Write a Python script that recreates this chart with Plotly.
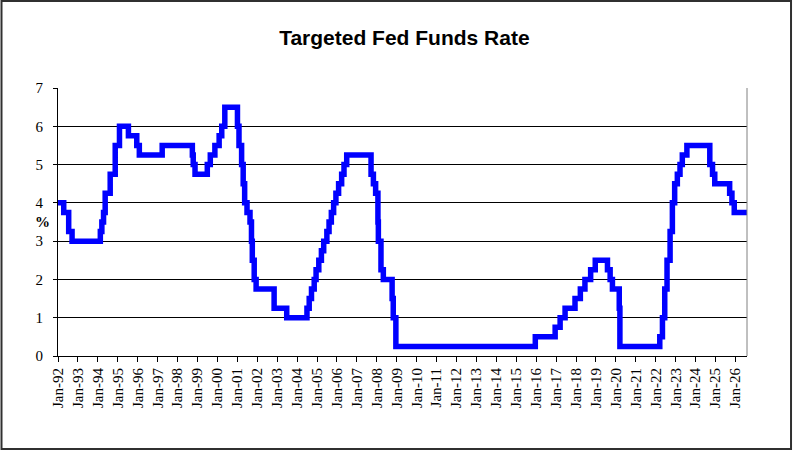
import plotly.graph_objects as go

# target rate (upper bound after 2008), dates when the level changed
change_dates = [
    "1992-01-01", "1992-04-15", "1992-07-15", "1992-09-15",
    "1994-02-15", "1994-03-15", "1994-04-15", "1994-05-15", "1994-08-15", "1994-11-15",
    "1995-02-01", "1995-07-15", "1995-12-15", "1996-01-31", "1997-03-25",
    "1998-09-29", "1998-10-15", "1998-11-17", "1999-06-30", "1999-08-24", "1999-11-16",
    "2000-02-02", "2000-03-21", "2000-05-16",
    "2001-01-03", "2001-01-31", "2001-03-20", "2001-04-18", "2001-05-15", "2001-06-27",
    "2001-08-21", "2001-09-17", "2001-10-02", "2001-11-06", "2001-12-11",
    "2002-11-06", "2003-06-25",
    "2004-06-30", "2004-08-10", "2004-09-21", "2004-11-10", "2004-12-14",
    "2005-02-02", "2005-03-22", "2005-05-03", "2005-06-30", "2005-08-09", "2005-09-20",
    "2005-11-01", "2005-12-13", "2006-01-31", "2006-03-28", "2006-05-10", "2006-06-29",
    "2007-09-18", "2007-10-31", "2007-12-11",
    "2008-01-22", "2008-01-30", "2008-03-18", "2008-04-30", "2008-10-08", "2008-10-29", "2008-12-16",
    "2015-12-16", "2016-12-14", "2017-03-15", "2017-06-14", "2017-12-13",
    "2018-03-21", "2018-06-13", "2018-09-26", "2018-12-19",
    "2019-07-31", "2019-09-18", "2019-10-30", "2020-03-03", "2020-03-15",
    "2022-03-16", "2022-05-04", "2022-06-15", "2022-07-27", "2022-09-21", "2022-11-02", "2022-12-14",
    "2023-02-01", "2023-03-22", "2023-05-03", "2023-07-26",
    "2024-09-18", "2024-11-07", "2024-12-18",
    "2025-09-17", "2025-10-29", "2025-12-10",
    "2026-08-01",
]
rates = [
    4.0, 3.75, 3.25, 3.0,
    3.25, 3.5, 3.75, 4.25, 4.75, 5.5,
    6.0, 5.75, 5.5, 5.25, 5.5,
    5.25, 5.0, 4.75, 5.0, 5.25, 5.5,
    5.75, 6.0, 6.5,
    6.0, 5.5, 5.0, 4.5, 4.0, 3.75,
    3.5, 3.0, 2.5, 2.0, 1.75,
    1.25, 1.0,
    1.25, 1.5, 1.75, 2.0, 2.25,
    2.5, 2.75, 3.0, 3.25, 3.5, 3.75,
    4.0, 4.25, 4.5, 4.75, 5.0, 5.25,
    4.75, 4.5, 4.25,
    3.5, 3.0, 2.25, 2.0, 1.5, 1.0, 0.25,
    0.5, 0.75, 1.0, 1.25, 1.5,
    1.75, 2.0, 2.25, 2.5,
    2.25, 2.0, 1.75, 1.25, 0.25,
    0.5, 1.0, 1.75, 2.5, 3.25, 4.0, 4.5,
    4.75, 5.0, 5.25, 5.5,
    5.0, 4.75, 4.5,
    4.25, 4.0, 3.75,
    3.75,
]
tick_dates = ["%d-01-01" % y for y in range(1992, 2027)]

fig = go.Figure()
fig.add_trace(go.Scatter(x=change_dates, y=rates, mode="lines",
                         line=dict(color="#0000FF", width=5.5, shape="hv"),
                         showlegend=False, hoverinfo="skip"))

fig.update_layout(
    width=796, height=453,
    margin=dict(l=58, r=49, t=88, b=97),
    paper_bgcolor="white", plot_bgcolor="white",
    title=dict(text="<b>Targeted Fed Funds Rate</b>", x=0.508, y=0.916,
               xanchor="center", yanchor="middle",
               font=dict(family="Liberation Sans", size=21, color="black")),
    xaxis=dict(type="date", range=["1992-01-01", "2026-08-01"],
               tickmode="array", tickvals=tick_dates, tickformat="%b-%y",
               tickangle=-90, showgrid=False, zeroline=False,
               showline=True, linecolor="black", linewidth=1,
               ticks="outside", ticklen=5, tickcolor="black",
               tickfont=dict(family="Liberation Serif", size=15, color="black")),
    yaxis=dict(range=[0, 7], dtick=1, showgrid=True, gridcolor="black", gridwidth=1,
               zeroline=False, showline=True, linecolor="black", linewidth=1,
               ticks="outside", ticklen=4, tickcolor="black", ticklabelstandoff=7,
               tickfont=dict(family="Liberation Serif", size=15, color="black")),
    annotations=[dict(text="<b>%</b>", xref="paper", yref="paper", x=-0.036, y=0.5,
                      showarrow=False,
                      font=dict(family="Liberation Serif", size=15, color="black"))],
    shapes=[
        # right edge of plot area
        dict(type="line", xref="paper", yref="paper", x0=1, x1=1, y0=0, y1=1,
             line=dict(color="#808080", width=1)),
        # outer chart border
        dict(type="rect", xref="paper", yref="paper", x0=-0.082, x1=1.0639,
             y0=-0.347, y1=1.3246, line=dict(color="#303030", width=2)),
    ],
)

# page body has an 8px default margin; drop it so the chart sits at the corner
fig.write_html("out.html", config={"displayModeBar": False},
               post_script="document.body.style.margin='0';")
